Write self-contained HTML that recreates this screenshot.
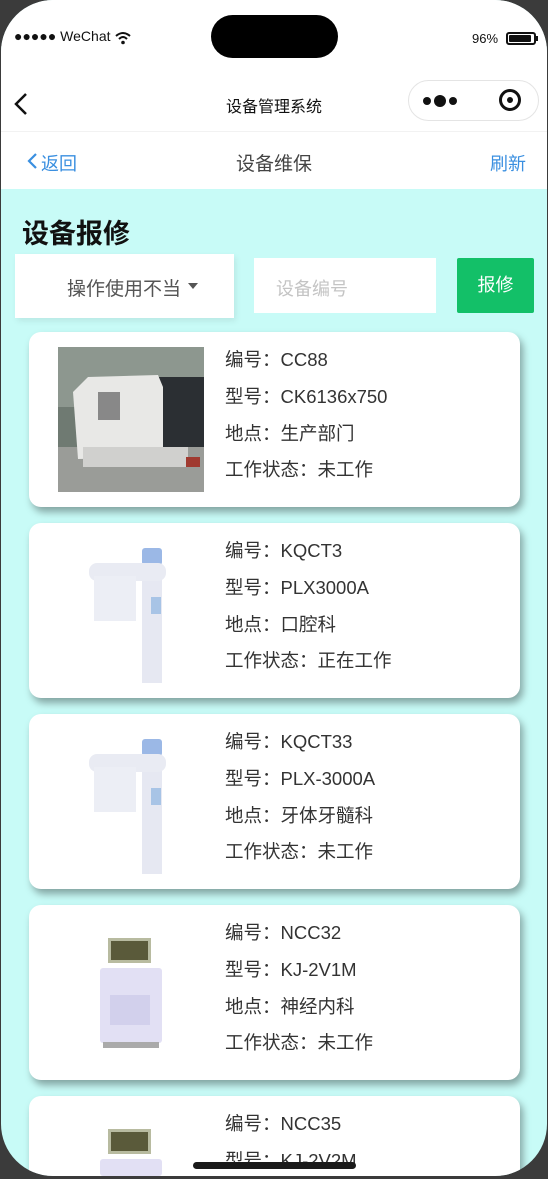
<!DOCTYPE html>
<html><head><meta charset="utf-8"><style>
*{margin:0;padding:0;box-sizing:border-box}
html,body{width:548px;height:1179px;overflow:hidden}
body{background:#3b3b3b;font-family:"Liberation Sans","Noto Sans CJK SC",sans-serif;position:relative}
.screen{position:absolute;left:1px;top:0;width:546px;height:1176px;border-radius:52px;background:#c8fbf7;overflow:hidden}
.top{position:absolute;left:0;top:0;width:546px;height:189px;background:#fff}
.abs{position:absolute}
.card{position:absolute;left:28px;width:491px;height:175px;background:#fff;border-radius:12px;box-shadow:3px 5px 8px rgba(0,0,0,0.35)}
.card .img{position:absolute;left:29px;top:15px;width:146px;height:145px}
.card .t{position:absolute;left:196px;font-size:18.5px;color:#333;white-space:nowrap;line-height:22px}
</style></head><body>
<div class="screen">
<div class="top"></div>
<div class="abs" style="left:13px;top:28px;font-size:14px;color:#111;white-space:nowrap">●●●●● WeChat</div>
<svg class="abs" style="left:114px;top:31px" width="16" height="14" viewBox="0 0 16 14"><path d="M1 5 Q8 -1 15 5" stroke="#111" stroke-width="2" fill="none"/><path d="M4 8 Q8 4 12 8" stroke="#111" stroke-width="2" fill="none"/><circle cx="8" cy="11.5" r="1.8" fill="#111"/></svg>
<div class="abs" style="left:210px;top:15px;width:127px;height:43px;border-radius:22px;background:#000"></div>
<div class="abs" style="left:471px;top:31px;font-size:13px;color:#111">96%</div>
<div class="abs" style="left:505px;top:32px;width:30px;height:13px;border:2px solid #111;border-radius:3px;padding:1px"><div style="width:22px;height:7px;background:#111;border-radius:1px"></div></div>
<div class="abs" style="left:535px;top:36px;width:2px;height:5px;background:#111"></div>
<svg class="abs" style="left:12px;top:92px" width="16" height="24"><path d="M13 2 L3 12 L13 22" stroke="#111" stroke-width="2.5" fill="none"/></svg>
<div class="abs" style="left:0;width:546px;top:93px;text-align:center;font-size:16px;color:#111">设备管理系统</div>
<div class="abs" style="left:407px;top:80px;width:131px;height:41px;border:1px solid #e4e4e4;border-radius:21px"></div>
<div class="abs" style="left:422px;top:97px;width:8px;height:8px;border-radius:50%;background:#111"></div>
<div class="abs" style="left:433px;top:95px;width:12px;height:12px;border-radius:50%;background:#111"></div>
<div class="abs" style="left:448px;top:97px;width:8px;height:8px;border-radius:50%;background:#111"></div>
<div class="abs" style="left:498px;top:89px;width:22px;height:22px;border:3px solid #111;border-radius:50%"><div style="position:absolute;left:5px;top:5px;width:6px;height:6px;border-radius:50%;background:#111"></div></div>
<div class="abs" style="left:0;top:131px;width:546px;height:1px;background:#f2f2f2"></div>
<svg class="abs" style="left:25px;top:152px" width="12" height="18"><path d="M10 2 L3 9 L10 16" stroke="#3a8fe0" stroke-width="2.2" fill="none"/></svg>
<div class="abs" style="left:40px;top:150px;font-size:18px;color:#3a8fe0">返回</div>
<div class="abs" style="left:0;width:546px;top:149px;text-align:center;font-size:19px;color:#444">设备维保</div>
<div class="abs" style="left:489px;top:150px;font-size:18px;color:#3a8fe0">刷新</div>
<div class="abs" style="left:21px;top:212px;font-size:27px;font-weight:bold;color:#111">设备报修</div>
<div class="abs" style="left:14px;top:254px;width:219px;height:64px;background:#fff;box-shadow:2px 3px 6px rgba(0,0,0,0.08)"></div>
<div class="abs" style="left:66px;top:274px;font-size:19px;color:#555">操作使用不当</div>
<div class="abs" style="left:187px;top:283px;width:0;height:0;border-left:5px solid transparent;border-right:5px solid transparent;border-top:6px solid #555"></div>
<div class="abs" style="left:253px;top:258px;width:182px;height:55px;background:#fff"></div>
<div class="abs" style="left:275px;top:275px;font-size:18px;color:#c4c4c4">设备编号</div>
<div class="abs" style="left:456px;top:258px;width:77px;height:55px;background:#13c068;border-radius:2px;color:#fff;font-size:18px;text-align:center;line-height:55px">报修</div>

<div class="card" style="top:332px">
<svg class="img" viewBox="0 0 146 145"><rect width="146" height="145" fill="#6f7a72"/><rect width="146" height="60" fill="#8d978f"/><rect x="0" y="100" width="146" height="45" fill="#9a9c98"/><rect x="100" y="30" width="46" height="70" fill="#2b2f33"/><path d="M15 45 L30 30 L100 28 L105 40 L105 110 L20 112 Z" fill="#e8e8e6"/><rect x="40" y="45" width="22" height="28" fill="#888"/><rect x="25" y="100" width="105" height="20" fill="#d0d0ce"/><rect x="128" y="110" width="14" height="10" fill="#a03a30"/></svg>
<div class="t" style="top:17px">编号：CC88</div>
<div class="t" style="top:54px">型号：CK6136x750</div>
<div class="t" style="top:91px">地点：生产部门</div>
<div class="t" style="top:127px">工作状态：未工作</div>
</div>
<div class="card" style="top:523px">
<svg class="img" viewBox="0 0 146 145"><rect x="84" y="15" width="20" height="130" fill="#e6e8f2"/><rect x="84" y="10" width="20" height="17" rx="3" fill="#9bb8e6"/><rect x="31" y="25" width="77" height="18" rx="8" fill="#e9ebf3"/><rect x="36" y="38" width="42" height="45" fill="#eceef5"/><rect x="93" y="59" width="10" height="17" fill="#a8c4e6"/></svg>
<div class="t" style="top:17px">编号：KQCT3</div>
<div class="t" style="top:54px">型号：PLX3000A</div>
<div class="t" style="top:91px">地点：口腔科</div>
<div class="t" style="top:127px">工作状态：正在工作</div>
</div>
<div class="card" style="top:714px">
<svg class="img" viewBox="0 0 146 145"><rect x="84" y="15" width="20" height="130" fill="#e6e8f2"/><rect x="84" y="10" width="20" height="17" rx="3" fill="#9bb8e6"/><rect x="31" y="25" width="77" height="18" rx="8" fill="#e9ebf3"/><rect x="36" y="38" width="42" height="45" fill="#eceef5"/><rect x="93" y="59" width="10" height="17" fill="#a8c4e6"/></svg>
<div class="t" style="top:17px">编号：KQCT33</div>
<div class="t" style="top:54px">型号：PLX-3000A</div>
<div class="t" style="top:91px">地点：牙体牙髓科</div>
<div class="t" style="top:127px">工作状态：未工作</div>
</div>
<div class="card" style="top:905px">
<svg class="img" viewBox="0 0 146 145"><rect x="50" y="18" width="43" height="25" fill="#b8bba0"/><rect x="53" y="21" width="37" height="19" fill="#5a5a3a"/><rect x="42" y="48" width="62" height="75" rx="3" fill="#e2e0f4"/><rect x="52" y="75" width="40" height="30" fill="#d2d0ec"/><rect x="45" y="122" width="56" height="6" fill="#aaa"/></svg>
<div class="t" style="top:17px">编号：NCC32</div>
<div class="t" style="top:54px">型号：KJ-2V1M</div>
<div class="t" style="top:91px">地点：神经内科</div>
<div class="t" style="top:127px">工作状态：未工作</div>
</div>
<div class="card" style="top:1096px;height:80px;border-radius:12px 12px 0 0">
<svg class="img" viewBox="0 0 146 65" style="height:65px"><rect x="50" y="18" width="43" height="25" fill="#b8bba0"/><rect x="53" y="21" width="37" height="19" fill="#5a5a3a"/><rect x="42" y="48" width="62" height="17" rx="3" fill="#e2e0f4"/></svg>
<div class="t" style="top:17px">编号：NCC35</div>
<div class="t" style="top:54px">型号：KJ-2V2M</div>
</div>
<div class="abs" style="left:192px;top:1162px;width:163px;height:7px;border-radius:4px;background:#1a1a1a"></div>
</div>
</body></html>
